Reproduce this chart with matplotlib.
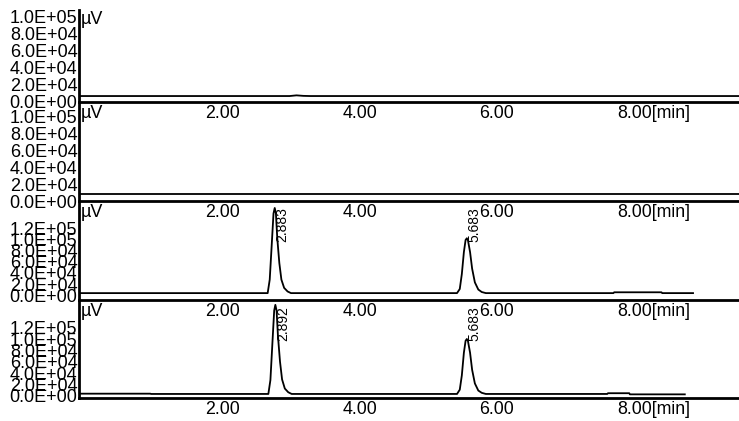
import matplotlib
matplotlib.use("Agg")
import matplotlib.pyplot as plt
from matplotlib.transforms import ScaledTranslation

plt.rcParams['font.family'] = ['Liberation Sans', 'DejaVu Sans']

W, H, DPI = 739, 421, 100

# x axis (retention time, min)
x_ticks = [2.0, 4.0, 6.0, 8.0]
x_ticklabels = ["2.00", "4.00", "6.00", "8.00[min]"]

# y axis ticks
yticks_a = [0, 2e4, 4e4, 6e4, 8e4, 1e5]
ylabels_a = ["0.0E+00", "2.0E+04", "4.0E+04", "6.0E+04", "8.0E+04", "1.0E+05"]
yticks_b = [0, 2e4, 4e4, 6e4, 8e4, 1e5, 1.2e5]
ylabels_b = ["0.0E+00", "2.0E+04", "4.0E+04", "6.0E+04", "8.0E+04", "1.0E+05", "1.2E+05"]

# panel 1 - blank
t1 = [0.0, 3.10, 3.20, 3.30, 3.40, 9.70]
y1 = [7000, 7000, 7800, 7200, 7000, 7000]

# panel 2 - blank
t2 = [0.0, 9.70]
y2 = [8000, 8000]

# panel 3 - sample
t3 = [0.0, 2.78, 2.81, 2.84, 2.865, 2.883, 2.90, 2.92, 2.95, 2.98, 3.02, 3.07, 3.12,
      5.54, 5.58, 5.61, 5.64, 5.665, 5.683, 5.70, 5.73, 5.76, 5.80, 5.85, 5.90, 5.96,
      7.82, 7.83, 8.52, 8.53, 8.98]
y3 = [3500, 3500, 28000, 93000, 148000, 158000, 148000, 103000, 58000, 28000, 13000, 6500, 3500,
      3500, 11000, 38000, 78000, 100000, 103000, 99000, 78000, 48000, 23000, 10000, 5500, 3500,
      3500, 5000, 5000, 3500, 3500]

# panel 4 - sample
t4 = [0.0, 1.07, 1.08, 2.79, 2.82, 2.85, 2.875, 2.892, 2.91, 2.93, 2.96, 2.99, 3.03, 3.08, 3.13,
      5.54, 5.58, 5.61, 5.64, 5.665, 5.683, 5.70, 5.73, 5.76, 5.80, 5.85, 5.90, 5.96,
      7.73, 7.74, 8.05, 8.06, 8.86]
y4 = [4000, 4000, 3500, 3500, 28000, 95000, 150000, 160000, 150000, 105000, 60000, 29000, 13000, 6500, 3500,
      3500, 11000, 36000, 76000, 97000, 100000, 96000, 76000, 46000, 22000, 9500, 5500, 3500,
      3500, 4800, 4800, 2800, 2800]

traces = [(t1, y1), (t2, y2), (t3, y3), (t4, y4)]
yticks = [(yticks_a, ylabels_a), (yticks_a, ylabels_a), (yticks_b, ylabels_b), (yticks_b, ylabels_b)]
ylims = [(0, 108000), (0, 115000), (-9000, 167000), (-3600, 165000)]
peaks = [[], [], [(2.883, "2.883"), (5.683, "5.683")], [(2.892, "2.892"), (5.683, "5.683")]]

# panel frame in pixels (top, bottom)
frames = [(10, 102), (104, 201), (203, 300), (302, 398)]
left_px = 79

fig = plt.figure(figsize=(W / DPI, H / DPI), dpi=DPI)
fig.patch.set_facecolor('white')

for (t, y), (yt, yl), ylim, pk, (top, bot) in zip(traces, yticks, ylims, peaks, frames):
    ax = fig.add_axes([left_px / W, 1 - bot / H, 1 - left_px / W, (bot - top) / H])
    ax.patch.set_visible(False)
    ax.plot(t, y, color='black', lw=1.3)
    ax.set_xlim(0.03, 9.65)
    ax.set_ylim(*ylim)

    for s in ['top', 'right']:
        ax.spines[s].set_visible(False)
    for s in ['left', 'bottom']:
        ax.spines[s].set_linewidth(2.0)

    ax.set_xticks(x_ticks)
    ax.set_xticklabels(x_ticklabels, fontsize=12.8)
    ax.set_yticks(yt)
    ax.set_yticklabels(yl, fontsize=13)
    ax.tick_params(axis='x', length=0, pad=2.5)
    ax.tick_params(axis='y', length=0, pad=1)
    # labels start a little left of their tick, like the instrument software
    shift = ScaledTranslation(-9 / DPI, 0, fig.dpi_scale_trans)
    for lab in ax.get_xticklabels():
        lab.set_horizontalalignment('left')
        lab.set_transform(lab.get_transform() + shift)

    ax.text(0.003, 0.99, "µV", transform=ax.transAxes, fontsize=13,
            ha='left', va='top')

    # retention time labels, rotated, hung from the top of the panel
    off = ScaledTranslation(8 / DPI, -4 / DPI, fig.dpi_scale_trans)
    for rt, lab in pk:
        ax.text(rt, 1.0, lab, transform=ax.get_xaxis_transform() + off,
                rotation=90, fontsize=10, ha='center', va='top')

fig.savefig("out.png", dpi=DPI)
